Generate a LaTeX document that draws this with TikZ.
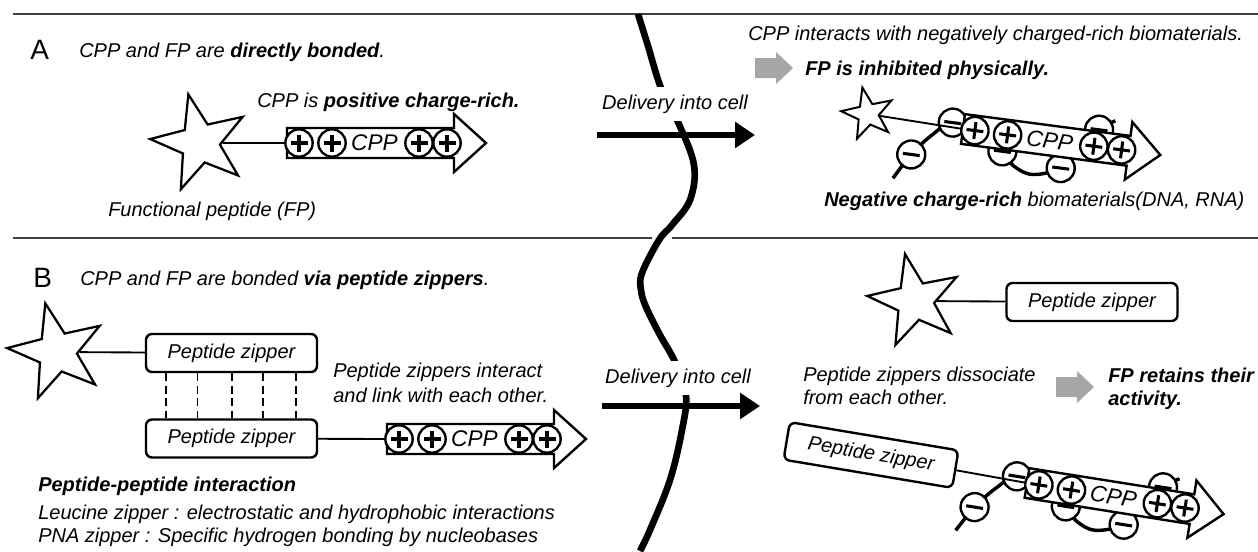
\documentclass[tikz,border=0pt]{standalone}
\usepackage{fontspec}
\setmainfont{Liberation Sans}
\usetikzlibrary{shapes.geometric,arrows.meta,calc}

\tikzset{
  txt/.style={font=\itshape\fontsize{15}{18}\selectfont, inner sep=0pt, anchor=base west},
  bigl/.style={font=\upshape\fontsize{21}{24}\selectfont, inner sep=0pt, anchor=base west},
  fpstar/.style={star, star points=5, star point ratio=2.5, draw, fill=white, line width=1.7pt, inner sep=0pt, minimum size=75pt},
  link/.style={line width=1.4pt},
  rule/.style={line width=1.5pt, draw=black!75},
  membrane/.style={line width=5pt},
  deliv/.style={line width=5pt, -{Triangle[length=15pt,width=19pt]}},
  dlabel/.style={font=\itshape\fontsize{15}{18}\selectfont, fill=white, inner xsep=3pt, inner ysep=6pt},
  cppbody/.style={draw, fill=white, line width=1.8pt, line join=miter},
  pchg/.style={circle, draw, fill=white, line width=1.8pt, minimum size=20.5pt, inner sep=0pt},
  mchg/.style={circle, draw, fill=white, line width=1.8pt, minimum size=21pt, inner sep=0pt},
  chgline/.style={line width=2.3pt},
  cpptext/.style={font=\itshape\fontsize{17}{20}\selectfont, inner sep=0pt},
  strand/.style={line width=2.6pt},
  zbox/.style={draw, fill=white, rounded corners=4.5pt, line width=1.8pt, minimum width=128.25pt, minimum height=28.5pt, inner sep=0pt, font=\itshape\fontsize{15}{18}\selectfont},
  zipdash/.style={line width=1.4pt, dash pattern=on 6pt off 3.4pt},
  grayarr/.style={fill=black!35}
}

\newcommand\chgP[2]{\node[pchg] (#1) at (#2) {};
  \draw[chgline] (#1.center) ++(-8.5,0) -- ++(17,0) (#1.center) ++(0,-8.5) -- ++(0,17);}
\newcommand\chgM[2]{\node[mchg] (#1) at (#2) {};
  \draw[chgline] (#1.center) ++(-8.5,0) -- ++(17,0);}
\newcommand\cppArrow[1]{%
  \draw[cppbody] (0,-15) -- (167,-15) -- (167,-29) -- (199,0) -- (167,29) -- (167,15) -- (0,15) -- cycle;
  \chgP{#1a}{12,0}\chgP{#1b}{45,0}\chgP{#1c}{132,0}\chgP{#1d}{160,0}
  \node[cpptext] (#1t) at (87.5,0) {CPP};}
\newcommand\dnaStrand[1]{%
  \draw[strand] plot[smooth, tension=0.6] coordinates {(-63,58) (-48,32) (-30,10) (-11,-5) (20,-3) (42,17) (55,30) (75,36) (102,26) (120,5) (135,-17) (150,-28)};
  \chgM{#1a}{-48,32}\chgM{#1b}{-11,-5}\chgM{#1c}{42,17}\chgM{#1d}{102,26}\chgM{#1e}{135,-17}}
\newcommand\grayArrow{%
  \fill[grayarr] (0,-10) -- (21,-10) -- (21,-16) -- (38,0) -- (21,16) -- (21,10) -- (0,10) -- cycle;}

\begin{document}
\begin{tikzpicture}[x=0.75pt,y=-0.75pt]
\useasboundingbox (0,0) rectangle (1258,551);

% rules
\coordinate (tl0) at (13,14); \coordinate (tl1) at (1258,14);
\draw[rule] (tl0) -- (tl1);
\coordinate (ml0) at (13,238); \coordinate (ml1) at (652,238);
\coordinate (ml2) at (672,238); \coordinate (ml3) at (1258,238);
\draw[rule] (ml0) -- (ml1);
\draw[rule] (ml2) -- (ml3);

% membrane
\draw[membrane] plot[smooth, tension=0.6] coordinates {(638,14) (648,46) (661,88) (678,122) (694,165) (690,200) (672,225) (659,240) (642,273) (641,290) (646,307) (660,335) (675,362) (686,395) (682,430) (670,480) (650,530) (640,551)};

\node[dlabel] (dlA) at (675,104) {Delivery into cell};
\node[dlabel] (dlB) at (678,378) {Delivery into cell};
\coordinate (dA0) at (597,135); \coordinate (dA1) at (755,135);
\coordinate (dB0) at (602,406); \coordinate (dB1) at (760,406);
\draw[deliv] (dA0) -- (dA1);
\draw[deliv] (dB0) -- (dB1);

% ---------- A left
\node[bigl] (lA) at (30,59) {A};
\node[txt] (tA) at (79,57) {CPP and FP are \textbf{directly bonded}.};
\node[txt] (tA2) at (257,107) {CPP is \textbf{positive charge-rich.}};
\node[fpstar, rotate=13.5] (sA) at (200,143) {};
\begin{scope}[shift={(287,143)}]
  \coordinate (cAl) at (0,0);
  \draw[link] (sA) -- (cAl);
  \cppArrow{cA}
\end{scope}
\node[txt] (tA3) at (108,216) {Functional peptide (FP)};

% ---------- A right
\node[txt] (tAR) at (748,40) {CPP interacts with negatively charged-rich biomaterials.};
\begin{scope}[shift={(755,68)}] \grayArrow \end{scope}
\node[txt] (tAR2) at (805,75) {\textbf{FP is inhibited physically.}};
\node[fpstar, minimum size=40.5pt, line width=1.5pt, rotate=12] (sAR) at (868,114) {};
\begin{scope}[shift={(963,129)}, rotate=-7.5, transform shape]
  \dnaStrand{nA}
  \coordinate (cARl) at (0,0);
  \draw[link] (sAR) -- (cARl);
  \cppArrow{cAR}
\end{scope}
\node[txt] (tAR3) at (824,206) {\textbf{Negative charge-rich} biomaterials(DNA, RNA)};

% ---------- B left
\node[bigl] (lB) at (33,287) {B};
\node[txt] (tB) at (80,285) {CPP and FP are bonded \textbf{via peptide zippers}.};
\node[fpstar, rotate=13.5] (sB) at (57,352) {};
\node[zbox] (zU) at (231.5,353) {Peptide zipper};
\node[zbox] (zL) at (231.5,438.5) {Peptide zipper};
\draw[link] (sB) -- (zU);
\foreach \f in {0.123,0.304,0.503,0.684,0.871}
  \draw[zipdash] ($(zU.south west)!\f!(zU.south east)$) -- ($(zL.north west)!\f!(zL.north east)$);
\node[txt] (tB2) at (333,377) {Peptide zippers interact};
\node[txt] (tB2b) at (333,402) {and link with each other.};
\begin{scope}[shift={(387,439)}]
  \coordinate (cBl) at (0,0);
  \draw[link] (zL) -- (cBl);
  \cppArrow{cB}
\end{scope}
\node[txt] (tB3) at (38,491) {\textbf{Peptide-peptide interaction}};
\node[txt] (tB4) at (38,519) {Leucine zipper : electrostatic and hydrophobic interactions};
\node[txt] (tB5) at (38,542) {PNA zipper : Specific hydrogen bonding by nucleobases};

% ---------- B right
\node[fpstar, minimum size=72pt, rotate=12] (sBR) at (915,301) {};
\node[zbox] (zR) at (1092,302) {Peptide zipper};
\draw[link] (sBR) -- (zR);
\node[txt] (tBR) at (803,381) {Peptide zippers dissociate};
\node[txt] (tBRb) at (803,404) {from each other.};
\begin{scope}[shift={(1056,387)}] \grayArrow \end{scope}
\node[txt] (tBR2) at (1108,382) {\textbf{FP retains their}};
\node[txt] (tBR2b) at (1108,405) {\textbf{activity.}};
\node[zbox, rotate=-9.5] (zT) at (871,455) {Peptide zipper};
\begin{scope}[shift={(1027,483)}, rotate=-9, transform shape]
  \dnaStrand{nB}
  \coordinate (cBRl) at (0,0);
  \draw[link] (zT) -- (cBRl);
  \cppArrow{cBR}
\end{scope}
\end{tikzpicture}
\end{document}
